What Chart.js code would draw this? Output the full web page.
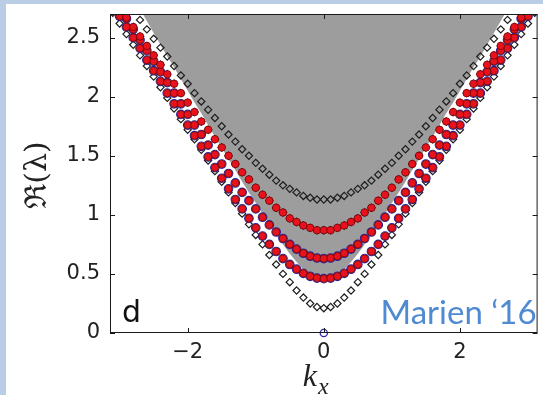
<!DOCTYPE html>
<html lang="en">
<head>
<meta charset="UTF-8">
<title>Re(lambda) vs kx</title>
<script src="https://cdn.jsdelivr.net/npm/chart.js"></script>
<style>
  html, body { margin: 0; padding: 0; background: #b9cde5; }
  .panel { position: absolute; left: 6px; top: 4px; width: 537px; height: 391px; background: #fff; }
</style>
</head>
<body>
<div class="panel"><canvas id="bandChart"></canvas></div>
<script>
// momentum grid
const kx = [-3.1,-3.0,-2.9,-2.8,-2.7,-2.6,-2.5,-2.4,-2.3,-2.2,-2.1,-2.0,-1.9,-1.8,-1.7,-1.6,-1.5,-1.4,-1.3,-1.2,-1.1,-1.0,-0.9,-0.8,-0.7,-0.6,-0.5,-0.4,-0.3,-0.2,-0.1,0,0.1,0.2,0.3,0.4,0.5,0.6,0.7,0.8,0.9,1.0,1.1,1.2,1.3,1.4,1.5,1.6,1.7,1.8,1.9,2.0,2.1,2.2,2.3,2.4,2.5,2.6,2.7,2.8,2.9,3.0,3.1];

// lower edge of the grey continuum
const edgeE = [3.13,3.03,2.93,2.84,2.74,2.64,2.54,2.44,2.34,2.25,2.15,2.05,1.95,1.86,1.76,1.66,1.57,1.47,1.38,1.28,1.19,1.10,1.01,0.92,0.83,0.75,0.67,0.60,0.54,0.49,0.46,0.45,0.46,0.49,0.54,0.60,0.67,0.75,0.83,0.92,1.01,1.10,1.19,1.28,1.38,1.47,1.57,1.66,1.76,1.86,1.95,2.05,2.15,2.25,2.34,2.44,2.54,2.64,2.74,2.84,2.93,3.03,3.13];

// open diamonds, upper branch
const upperE = [2.98,2.90,2.82,2.73,2.65,2.57,2.49,2.415,2.34,2.26,2.18,2.11,2.03,1.96,1.89,1.82,1.75,1.68,1.62,1.555,1.50,1.44,1.39,1.34,1.29,1.25,1.22,1.19,1.16,1.145,1.13,1.13,1.13,1.145,1.16,1.19,1.22,1.25,1.29,1.34,1.39,1.44,1.50,1.555,1.62,1.68,1.75,1.82,1.89,1.96,2.03,2.11,2.18,2.26,2.34,2.415,2.49,2.57,2.65,2.73,2.82,2.90,2.98];

// red bands (top to bottom)
const band1E = [2.84,2.76,2.67,2.59,2.51,2.43,2.35,2.27,2.19,2.11,2.03,1.95,1.87,1.79,1.72,1.64,1.57,1.50,1.43,1.36,1.30,1.23,1.17,1.12,1.06,1.02,0.97,0.94,0.91,0.89,0.87,0.87,0.87,0.89,0.91,0.94,0.97,1.02,1.06,1.12,1.17,1.23,1.30,1.36,1.43,1.50,1.57,1.64,1.72,1.79,1.87,1.95,2.03,2.11,2.19,2.27,2.35,2.43,2.51,2.59,2.67,2.76,2.84];
const band2E = [2.84,2.75,2.66,2.57,2.48,2.39,2.30,2.21,2.12,2.03,1.94,1.85,1.76,1.68,1.59,1.51,1.43,1.35,1.27,1.19,1.12,1.05,0.98,0.915,0.855,0.80,0.75,0.71,0.675,0.65,0.635,0.63,0.635,0.65,0.675,0.71,0.75,0.80,0.855,0.915,0.98,1.05,1.12,1.19,1.27,1.35,1.43,1.51,1.59,1.68,1.76,1.85,1.94,2.03,2.12,2.21,2.30,2.39,2.48,2.57,2.66,2.75,2.84];
const band3E = [2.77,2.68,2.59,2.50,2.41,2.31,2.22,2.13,2.03,1.94,1.85,1.76,1.67,1.58,1.49,1.40,1.31,1.22,1.13,1.05,0.97,0.89,0.82,0.75,0.69,0.63,0.58,0.54,0.505,0.48,0.465,0.46,0.465,0.48,0.505,0.54,0.58,0.63,0.69,0.75,0.82,0.89,0.97,1.05,1.13,1.22,1.31,1.40,1.49,1.58,1.67,1.76,1.85,1.94,2.03,2.13,2.22,2.31,2.41,2.50,2.59,2.68,2.77];

// open diamonds, lowest branch
const lowerE = [2.71,2.62,2.53,2.44,2.35,2.26,2.17,2.08,1.99,1.90,1.81,1.72,1.64,1.55,1.46,1.37,1.28,1.19,1.10,1.01,0.92,0.83,0.75,0.66,0.58,0.50,0.43,0.36,0.30,0.25,0.22,0.21,0.22,0.25,0.30,0.36,0.43,0.50,0.58,0.66,0.75,0.83,0.92,1.01,1.10,1.19,1.28,1.37,1.46,1.55,1.64,1.72,1.81,1.90,1.99,2.08,2.17,2.26,2.35,2.44,2.53,2.62,2.71];

// zero mode
const zeroK = [0];
const zeroE = [0];

const xTicks = [-2, 0, 2];
const yTicks = [0, 0.5, 1, 1.5, 2, 2.5];

const tickFont = { family: '"DejaVu Sans", sans-serif', size: 21 };
const ink = '#222222';

function pts(vals) {
	return kx.map((k, i) => ({ x: k, y: vals[i] }));
}

function diamonds(label, vals, order) {
	return {
		label: label, data: pts(vals), showLine: false, order: order,
		pointStyle: 'rectRot', pointRadius: 3.6,
		pointBorderColor: '#1e1e1e', pointBackgroundColor: 'rgba(0,0,0,0)', pointBorderWidth: 1.2
	};
}

function rings(label, vals, order) {
	return {
		label: label, data: pts(vals), showLine: false, order: order,
		pointStyle: 'circle', pointRadius: 4.3,
		pointBorderColor: '#2b2ba8', pointBackgroundColor: 'rgba(0,0,0,0)', pointBorderWidth: 1.1
	};
}

function dots(label, vals, order) {
	return {
		label: label, data: pts(vals), showLine: false, order: order,
		pointStyle: 'circle', pointRadius: 3.8,
		pointBorderColor: '#5a0000', pointBackgroundColor: '#e8121c', pointBorderWidth: 0.7
	};
}

// box, inward ticks and the free texts
const framePlugin = {
	id: 'frame',
	afterDraw(chart) {
		const { ctx, chartArea: a, scales: { x, y } } = chart;
		ctx.save();
		ctx.strokeStyle = '#1a1a1a';
		ctx.lineWidth = 1;
		ctx.strokeRect(a.left + 0.5, a.top + 0.5, a.right - a.left - 1, a.bottom - a.top - 1);
		ctx.beginPath();
		yTicks.forEach(v => {
			const py = Math.round(y.getPixelForValue(v)) + 0.5;
			ctx.moveTo(a.left, py); ctx.lineTo(a.left + 5, py);
			ctx.moveTo(a.right, py); ctx.lineTo(a.right - 5, py);
		});
		xTicks.forEach(v => {
			const px = Math.round(x.getPixelForValue(v)) + 0.5;
			ctx.moveTo(px, a.bottom); ctx.lineTo(px, a.bottom - 5);
			ctx.moveTo(px, a.top); ctx.lineTo(px, a.top + 5);
		});
		ctx.stroke();

		ctx.fillStyle = '#111';
		ctx.font = '30px "DejaVu Sans", sans-serif';
		ctx.textAlign = 'left';
		ctx.textBaseline = 'alphabetic';
		ctx.fillText('d', a.left + 12, a.bottom - 11);

		ctx.fillStyle = '#508ad2';
		ctx.font = '33px Lato, "Open Sans", sans-serif';
		ctx.textAlign = 'right';
		ctx.fillText('Marien \u201816', a.right - 1, a.bottom - 9);

		// x axis title
		ctx.fillStyle = ink;
		ctx.textAlign = 'left';
		ctx.font = 'italic 32px "Liberation Serif", serif';
		const kx0 = x.getPixelForValue(0) - 21;
		ctx.fillText('k', kx0, 382);
		const kw = ctx.measureText('k').width;
		ctx.font = 'italic 24px "Liberation Serif", serif';
		ctx.fillText('x', kx0 + kw + 1, 390);

		// y axis title
		ctx.translate(32, 171);
		ctx.rotate(-Math.PI / 2);
		ctx.textAlign = 'center';
		ctx.textBaseline = 'middle';
		ctx.font = '30px "DejaVu Serif", serif';
		ctx.fillText('\u211C(\u03BB)', 0, 0);
		ctx.restore();
	}
};

new Chart(document.getElementById('bandChart'), {
	type: 'line',
	data: {
		datasets: [
			{ label: 'continuum', data: pts(edgeE), showLine: true, borderWidth: 0, borderColor: 'rgba(0,0,0,0)', pointRadius: 0, fill: 'end', backgroundColor: '#9d9d9d', order: 10 },
			diamonds('upper', upperE, 6),
			diamonds('lower', lowerE, 6),
			diamonds('band1 diamonds', band1E, 5),
			rings('band2 rings', band2E, 4),
			rings('band3 rings', band3E, 4),
			dots('band1', band1E, 2),
			dots('band2', band2E, 2),
			dots('band3', band3E, 2),
			{ label: 'zero', data: zeroK.map((k, i) => ({ x: k, y: zeroE[i] })), showLine: false, order: 0, clip: 6,
				pointStyle: 'circle', pointRadius: 3.6, pointBorderColor: '#2b2ba8', pointBackgroundColor: 'rgba(0,0,0,0)', pointBorderWidth: 1.3 }
		]
	},
	options: {
		responsive: true,
		maintainAspectRatio: false,
		animation: false,
		layout: { padding: { left: 0, right: 5, top: 10, bottom: 0 } },
		plugins: { legend: { display: false }, tooltip: { enabled: false } },
		scales: {
			x: {
				type: 'linear', min: -3.1416, max: 3.1416,
				grid: { display: false, drawTicks: false },
				border: { display: false },
				afterBuildTicks: s => { s.ticks = xTicks.map(v => ({ value: v })); },
				afterFit: s => { s.height = 62; s.paddingLeft = 0; s.paddingRight = 0; },
				ticks: {
					font: tickFont, color: ink, padding: 7, maxRotation: 0,
					callback: v => (v < 0 ? '\u2212' + Math.abs(v) : String(v))
				}
			},
			y: {
				type: 'linear', min: 0, max: 2.7,
				grid: { display: false, drawTicks: false },
				border: { display: false },
				afterBuildTicks: s => { s.ticks = yTicks.map(v => ({ value: v })); },
				afterFit: s => { s.width = 104; s.paddingTop = 0; s.paddingBottom = 0; },
				ticks: { font: tickFont, color: ink, padding: 10, callback: v => String(v) }
			}
		}
	},
	plugins: [framePlugin]
});
</script>
</body>
</html>
